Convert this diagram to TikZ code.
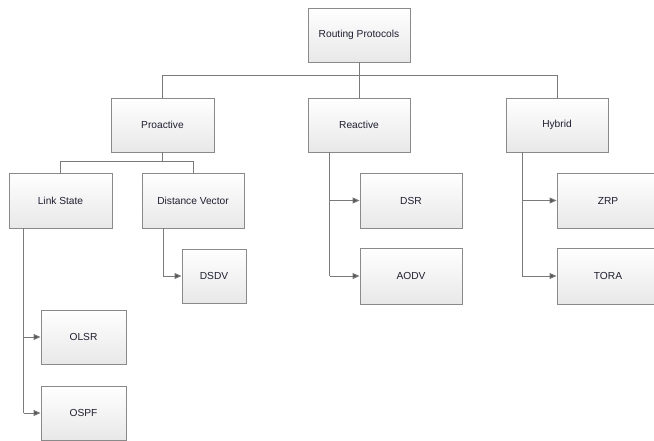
\documentclass[tikz,border=0pt]{standalone}
\usepackage{fontspec}
\setmainfont{Liberation Sans}
\usetikzlibrary{arrows.meta,calc}
\definecolor{boxline}{HTML}{8A8A8A}
\definecolor{conn}{HTML}{7A7A7A}
\definecolor{tip}{HTML}{555555}
\definecolor{txt}{HTML}{1E1E30}
\tikzset{
  box/.style={draw=boxline, line width=0.9pt, top color=white, bottom color=black!9,
    minimum width=102pt, minimum height=54pt, inner sep=0pt, font=\fontsize{10.2}{12}\selectfont, text=txt},
  conline/.style={draw=conn, line width=0.9pt},
  arr/.style={conline, -{Triangle[length=7pt,width=6pt,fill=tip]}}
}
\begin{document}
\begin{tikzpicture}[x=1pt,y=-1pt]
\useasboundingbox (0,0) rectangle (654,440);
\clip (0,0) rectangle (654,440);
\fill[white] (0,0) rectangle (654,440);
% nodes
\node[box] (root) at (359,35) {Routing Protocols};
\node[box, minimum width=103pt] (pro) at (162.5,125) {Proactive};
\node[box] (rea) at (359,125) {Reactive};
\node[box] (hyb) at (557,125) {Hybrid};
\node[box, minimum width=103pt, minimum height=55pt] (ls) at (60.5,200.5) {Link State};
\node[box, minimum height=55pt] (dv) at (193,200.5) {Distance Vector};
\node[box, minimum width=64pt] (dsdv) at (214,276) {DSDV};
\node[box, minimum height=55pt] (dsr) at (411,200.5) {DSR};
\node[box, minimum height=56pt] (aodv) at (411,276) {AODV};
\node[box, minimum height=55pt] (zrp) at (608,200.5) {ZRP};
\node[box, minimum height=56pt] (tora) at (608,276) {TORA};
\node[box, minimum width=85pt] (olsr) at (83.5,337) {OLSR};
\node[box, minimum width=85pt] (ospf) at (83.5,413) {OSPF};
% bus coordinates
\coordinate (bus1) at (0,75.5);
\coordinate (bus2) at (0,161);
\coordinate (lsx) at (23.5,0);
\coordinate (dvx) at (163,0);
\coordinate (rex) at (329.5,0);
\coordinate (hyx) at (522,0);
% top level
\draw[conline] (root.south) -- (root.south |- bus1) -| (pro.north);
\draw[conline] (root.south |- bus1) -| (rea.north);
\draw[conline] (root.south |- bus1) -| (hyb.north);
% proactive
\draw[conline] (pro.south) -- (pro.south |- bus2) -| (ls.north);
\draw[conline] (pro.south |- bus2) -| (dv.north);
% link state
\draw[conline] (lsx |- ls.south) -- (lsx |- ospf.west);
\draw[arr] (lsx |- olsr.west) -- (olsr.west);
\draw[arr] (lsx |- ospf.west) -- (ospf.west);
% distance vector
\draw[conline] (dvx |- dv.south) -- (dvx |- dsdv.west);
\draw[arr] (dvx |- dsdv.west) -- (dsdv.west);
% reactive
\draw[conline] (rex |- rea.south) -- (rex |- aodv.west);
\draw[arr] (rex |- dsr.west) -- (dsr.west);
\draw[arr] (rex |- aodv.west) -- (aodv.west);
% hybrid
\draw[conline] (hyx |- hyb.south) -- (hyx |- tora.west);
\draw[arr] (hyx |- zrp.west) -- (zrp.west);
\draw[arr] (hyx |- tora.west) -- (tora.west);
\end{tikzpicture}
\end{document}
